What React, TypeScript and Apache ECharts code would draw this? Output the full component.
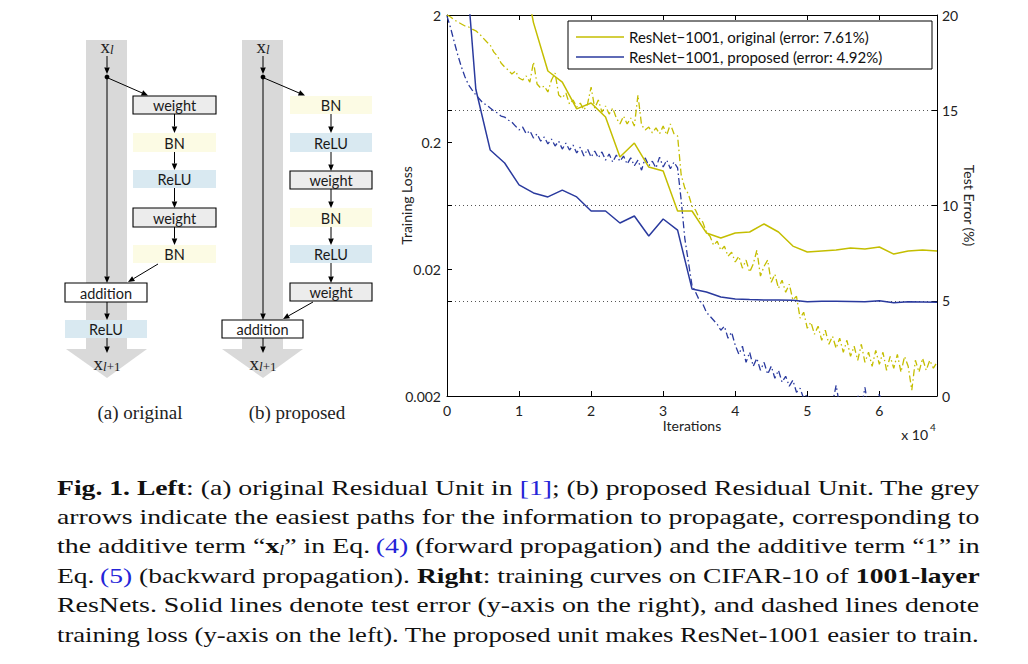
import React, { useEffect, useRef } from "react";
import * as echarts from "echarts";

// ---------- data (x in units of 10^4 iterations) ----------
const X_TICKS = [0, 1, 2, 3, 4, 5, 6];
const LOSS_TICKS = [0.002, 0.02, 0.2, 2];
const ERR_TICKS = [0, 5, 10, 15, 20];

const LEGEND_ORIG = "ResNet\u22121001, original (error: 7.61%)";
const LEGEND_PROP = "ResNet\u22121001, proposed (error: 4.92%)";

// test error (%), solid lines, right axis
const TEST_ITER_ORIG = [1.0, 1.2, 1.4, 1.6, 1.8, 2.0, 2.2, 2.4, 2.6, 2.8, 3.0, 3.2, 3.4, 3.6, 3.8, 4.0, 4.2, 4.4, 4.6, 4.8, 5.0, 5.2, 5.4, 5.6, 5.8, 6.0, 6.2, 6.4, 6.6, 6.8];
const TEST_ERR_ORIG = [23.5, 19.6, 17.06, 16.48, 15.07, 15.38, 14.65, 12.55, 13.28, 12.02, 11.81, 9.71, 9.71, 8.56, 8.29, 8.56, 8.61, 9.03, 8.61, 7.87, 7.56, 7.61, 7.66, 7.77, 7.72, 7.82, 7.45, 7.61, 7.66, 7.61];
const TEST_ITER_PROP = [0.2, 0.4, 0.6, 0.8, 1.0, 1.2, 1.4, 1.6, 1.8, 2.0, 2.2, 2.4, 2.6, 2.8, 3.0, 3.2, 3.4, 3.6, 3.8, 4.0, 4.2, 4.4, 4.6, 4.8, 5.0, 5.2, 5.4, 5.6, 5.8, 6.0, 6.2, 6.4, 6.6, 6.8];
const TEST_ERR_PROP = [25.7, 16.1, 12.91, 12.23, 11.08, 10.66, 10.45, 10.81, 10.45, 9.71, 9.71, 9.08, 9.45, 8.4, 9.29, 8.71, 5.62, 5.46, 5.2, 5.09, 5.06, 5.04, 5.04, 5.02, 4.95, 4.97, 4.97, 4.96, 4.95, 5.0, 4.9, 4.95, 4.94, 4.92];

// training loss, dashed lines, left log axis, sampled every 0.05 x 10^4 iterations from 0
const LOSS_STEP = 0.05;
const LOSS_ORIG = [
  2.0, 1.93, 1.83, 1.76, 1.7, 1.64, 1.61, 1.55, 1.5, 1.42,
  1.32, 1.23, 1.16, 1.02, 0.951, 0.837, 0.779, 0.738, 0.686, 0.725,
  0.638, 0.615, 0.662, 0.593, 0.853, 0.572, 0.532, 0.552, 0.495, 0.615,
  0.699, 0.469, 0.444, 0.486, 0.398, 0.428, 0.377, 0.405, 0.357, 0.398,
  0.542, 0.37, 0.428, 0.344, 0.384, 0.332, 0.37, 0.309, 0.277, 0.32,
  0.277, 0.309, 0.267, 0.469, 0.272, 0.249, 0.262, 0.236, 0.258, 0.232,
  0.267, 0.227, 0.277, 0.232, 0.223, 0.11, 0.0867, 0.0778, 0.0626, 0.0581,
  0.0503, 0.0468, 0.039, 0.0362, 0.0308, 0.0331, 0.0281, 0.0302, 0.0252, 0.0271,
  0.0227, 0.0252, 0.0203, 0.0235, 0.0189, 0.0219, 0.0281, 0.0176, 0.021, 0.0235,
  0.0157, 0.0182, 0.0141, 0.0163, 0.0131, 0.0152, 0.0114, 0.0122, 0.00819, 0.00913,
  0.00683, 0.00762, 0.00613, 0.00708, 0.00549, 0.00659, 0.00511, 0.00591, 0.00475, 0.0057,
  0.00442, 0.00549, 0.0041, 0.00493, 0.00382, 0.00511, 0.00368, 0.00442, 0.00343, 0.00458,
  0.00355, 0.00442, 0.00319, 0.0041, 0.00331, 0.00426, 0.00308, 0.0041, 0.00343, 0.00222,
  0.00382, 0.00308, 0.00396, 0.00319, 0.00382, 0.00331, 0.00368,
];
const LOSS_PROP = [
  1.96, 1.58, 1.23, 0.968, 0.779, 0.65, 0.562, 0.513, 0.469, 0.436,
  0.405, 0.391, 0.37, 0.351, 0.338, 0.32, 0.314, 0.298, 0.287, 0.267,
  0.249, 0.262, 0.232, 0.245, 0.215, 0.232, 0.203, 0.219, 0.193, 0.211,
  0.186, 0.203, 0.176, 0.196, 0.173, 0.189, 0.164, 0.182, 0.155, 0.176,
  0.152, 0.17, 0.15, 0.167, 0.144, 0.161, 0.139, 0.158, 0.141, 0.155,
  0.134, 0.15, 0.13, 0.144, 0.12, 0.15, 0.13, 0.141, 0.125, 0.152,
  0.127, 0.144, 0.123, 0.139, 0.125, 0.0697, 0.0349, 0.0227, 0.0149, 0.0131,
  0.0114, 0.0106, 0.00913, 0.00849, 0.0079, 0.00735, 0.00659, 0.00708, 0.0057, 0.00636,
  0.00502, 0.00426, 0.00493, 0.00368, 0.00442, 0.00343, 0.00396, 0.00319, 0.00368, 0.00297,
  0.00343, 0.00276, 0.00319, 0.00257, 0.00286, 0.00239, 0.00266, 0.00214, 0.0023, 0.00191,
  0.00206, 0.00178, 0.00191, 0.00169, 0.00185, 0.00172, 0.00154, 0.00175, 0.00243, 0.00166,
  0.00154, 0.00172, 0.00149, 0.00169, 0.00202, 0.0016, 0.00234, 0.00154, 0.00166, 0.00149,
  0.0021, 0.00154, 0.00169, 0.00143, 0.00163, 0.00149, 0.00172, 0.00154, 0.00166, 0.00143,
  0.0016, 0.00149, 0.00172, 0.00151, 0.00166, 0.00149, 0.0016,
];

// caption lines: [style, text]
const CAPTION_LINES: [string, string][][] = [
  [["b", "Fig. 1. Left"], ["n", ": (a) original Residual Unit in "], ["c", "[1]"], ["n", "; (b) proposed Residual Unit. The grey"]],
  [["n", "arrows indicate the easiest paths for the information to propagate, corresponding to"]],
  [["n", "the additive term \u201c"], ["b", "x"], ["sub", "l"], ["n", "\u201d in Eq.\u2009"], ["c", "(4)"], ["n", " (forward propagation) and the additive term \u201c1\u201d in"]],
  [["n", "Eq.\u2009"], ["c", "(5)"], ["n", " (backward propagation). "], ["b", "Right"], ["n", ": training curves on CIFAR-10 of "], ["b", "1001-layer"]],
  [["n", "ResNets. Solid lines denote test error (y-axis on the right), and dashed lines denote"]],
  [["n", "training loss (y-axis on the left). The proposed unit makes ResNet-1001 easier to train."]],
];

// ---------- styling ----------
const YEL = "#c4be00";
const BLU = "#2a3a9e";
const AX_FONT = "Lato";
const SERIF = "Liberation Serif";
const CAP_SIZE = 22;
const GRID = { left: 447, right: 91, top: 15, bottom: 268 };

const CAP_RICH: Record<string, any> = {
  n: { fontFamily: SERIF, fontSize: CAP_SIZE, fontWeight: "normal", fill: "#111" },
  b: { fontFamily: SERIF, fontSize: CAP_SIZE, fontWeight: "bold", fill: "#111" },
  c: { fontFamily: SERIF, fontSize: CAP_SIZE, fontWeight: "normal", fill: "#2424d8" },
  sub: { fontFamily: SERIF, fontSize: 14, fontStyle: "italic", fontWeight: "normal", fill: "#111", verticalAlign: "bottom" },
};

function measureTokens(tokens: [string, string][]) {
  const ctx = document.createElement("canvas").getContext("2d")!;
  let w = 0;
  for (const [s, t] of tokens) {
    const st = CAP_RICH[s];
    ctx.font = `${st.fontStyle || "normal"} ${st.fontWeight || "normal"} ${st.fontSize}px "${st.fontFamily}"`;
    w += ctx.measureText(t).width;
  }
  return w;
}

function arrow(x1: number, y1: number, x2: number, y2: number) {
  const a = Math.atan2(y2 - y1, x2 - x1);
  const L = 6.5, Wd = 2.8;
  const c = Math.cos(a), s = Math.sin(a);
  const bx = x2 - L * c, by = y2 - L * s;
  return [
    { type: "line", silent: true, shape: { x1, y1, x2: bx, y2: by }, style: { stroke: "#000", lineWidth: 1 } },
    { type: "polygon", silent: true, shape: { points: [[x2, y2], [bx + Wd * s, by - Wd * c], [bx - Wd * s, by + Wd * c]] }, style: { fill: "#000" } },
  ];
}

function box(x: number, y: number, w: number, h: number, fill: string, stroked: boolean, label: string) {
  return [
    { type: "rect", silent: true, shape: { x, y, width: w, height: h }, style: { fill, stroke: stroked ? "#000" : "none", lineWidth: stroked ? 1.1 : 0 } },
    {
      type: "text", silent: true, x: x + w / 2, y: y + h / 2 + 0.5,
      style: { text: label, fontFamily: AX_FONT, fontSize: 14.5, fill: "#1a1a1a", align: "center", verticalAlign: "middle", textAlign: "center", textVerticalAlign: "middle" },
    },
  ];
}

function xLabel(cx: number, cy: number, sub: string, plus: string) {
  return {
    type: "text", silent: true, x: cx, y: cy,
    style: {
      text: `{x|x}{i|${sub}}` + (plus ? `{r|${plus}}` : ""),
      align: "center", verticalAlign: "middle", textAlign: "center", textVerticalAlign: "middle",
      rich: {
        x: { fontFamily: SERIF, fontSize: 19, fill: "#222", verticalAlign: "bottom" },
        i: { fontFamily: SERIF, fontSize: 13, fontStyle: "italic", fill: "#222", verticalAlign: "bottom" },
        r: { fontFamily: SERIF, fontSize: 13, fill: "#222", verticalAlign: "bottom" },
      },
    },
  };
}

const YELLOW_BOX = "#fcfbe4";
const BLUE_BOX = "#d9e9f1";
const GREY_BOX = "#ececec";
const BAND = "#d9d9d9";

function diagram() {
  const els: any[] = [];
  // (a) original
  els.push({ type: "rect", silent: true, shape: { x: 86, y: 40, width: 41, height: 309 }, style: { fill: BAND } });
  els.push({ type: "polygon", silent: true, shape: { points: [[66, 349], [147, 349], [107, 378]] }, style: { fill: BAND } });
  // (b) proposed
  els.push({ type: "rect", silent: true, shape: { x: 242, y: 40, width: 41, height: 309 }, style: { fill: BAND } });
  els.push({ type: "polygon", silent: true, shape: { points: [[222, 349], [303, 349], [263, 378]] }, style: { fill: BAND } });

  // boxes (a)
  els.push(...box(133, 96, 83, 18, GREY_BOX, true, "weight"));
  els.push(...box(133, 133, 83, 19, YELLOW_BOX, false, "BN"));
  els.push(...box(133, 170, 83, 18, BLUE_BOX, false, "ReLU"));
  els.push(...box(133, 208, 83, 19, GREY_BOX, true, "weight"));
  els.push(...box(133, 245, 83, 18, YELLOW_BOX, false, "BN"));
  els.push(...box(65, 283, 82, 19, "#fff", true, "addition"));
  els.push(...box(65, 320, 82, 18, BLUE_BOX, false, "ReLU"));
  // boxes (b)
  els.push(...box(290, 96, 82, 18, YELLOW_BOX, false, "BN"));
  els.push(...box(290, 133, 82, 19, BLUE_BOX, false, "ReLU"));
  els.push(...box(290, 171, 82, 18, GREY_BOX, true, "weight"));
  els.push(...box(290, 208, 82, 19, YELLOW_BOX, false, "BN"));
  els.push(...box(290, 245, 82, 18, BLUE_BOX, false, "ReLU"));
  els.push(...box(290, 283, 82, 18, GREY_BOX, true, "weight"));
  els.push(...box(222, 320, 81, 18, "#fff", true, "addition"));

  // arrows (a)
  els.push(...arrow(107, 56, 107, 74));
  els.push({ type: "circle", silent: true, shape: { cx: 107, cy: 77, r: 2.4 }, style: { fill: "#000" } });
  els.push(...arrow(107, 78, 107, 283));
  els.push(...arrow(108, 78, 148, 95.5));
  els.push(...arrow(174.5, 114, 174.5, 133));
  els.push(...arrow(174.5, 152, 174.5, 170));
  els.push(...arrow(174.5, 188, 174.5, 208));
  els.push(...arrow(174.5, 227, 174.5, 245));
  els.push(...arrow(158, 264, 128, 282));
  els.push(...arrow(107, 302, 107, 320));
  els.push(...arrow(107, 338, 107, 353));
  // arrows (b)
  els.push(...arrow(263, 56, 263, 74));
  els.push({ type: "circle", silent: true, shape: { cx: 263, cy: 77, r: 2.4 }, style: { fill: "#000" } });
  els.push(...arrow(263, 78, 263, 320));
  els.push(...arrow(264, 78, 305, 95.5));
  els.push(...arrow(331, 114, 331, 133));
  els.push(...arrow(331, 152, 331, 171));
  els.push(...arrow(331, 189, 331, 208));
  els.push(...arrow(331, 227, 331, 245));
  els.push(...arrow(331, 263, 331, 283));
  els.push(...arrow(313, 302, 283, 319));
  els.push(...arrow(263, 338, 263, 353));

  els.push(xLabel(107, 46, "l", ""));
  els.push(xLabel(263, 46, "l", ""));
  els.push(xLabel(107, 363, "l", "+1"));
  els.push(xLabel(263, 363, "l", "+1"));

  const sub = (x: number, t: string) => ({
    type: "text", silent: true, x, y: 412,
    style: { text: t, fontFamily: SERIF, fontSize: 19, fill: "#222", align: "center", verticalAlign: "middle", textAlign: "center", textVerticalAlign: "middle" },
  });
  els.push(sub(140, "(a) original"));
  els.push(sub(297, "(b) proposed"));
  return els;
}

function caption() {
  const ys = [488, 517, 546, 576, 605, 634];
  const left = 57, width = 923;
  return CAPTION_LINES.map((tokens, i) => {
    const w = measureTokens(tokens);
    return {
      type: "text", silent: true, x: left, y: ys[i], scaleX: width / w, scaleY: 1,
      style: {
        text: tokens.map(([s, t]) => `{${s}|${t}}`).join(""),
        rich: CAP_RICH,
        fontFamily: SERIF, fontSize: CAP_SIZE, fill: "#111",
        align: "left", verticalAlign: "middle", textAlign: "left", textVerticalAlign: "middle",
      },
    };
  });
}

function buildOption(): any {
  const lossOrig = LOSS_ORIG.map((v, i) => [+(i * LOSS_STEP).toFixed(2), v]);
  const lossProp = LOSS_PROP.map((v, i) => [+(i * LOSS_STEP).toFixed(2), v]);
  const errOrig = TEST_ITER_ORIG.map((x, i) => [x, TEST_ERR_ORIG[i]]);
  const errProp = TEST_ITER_PROP.map((x, i) => [x, TEST_ERR_PROP[i]]);

  const axisLine = { show: true, onZero: false, lineStyle: { color: "#000", width: 1 } };
  const tick = { show: true, inside: true, length: 5, lineStyle: { color: "#000", width: 1 } };
  const lbl = { color: "#222", fontFamily: AX_FONT, fontSize: 14 };
  const dash = [7, 3, 1.5, 3];
  const nameStyle = { color: "#222", fontFamily: AX_FONT, fontSize: 14 };

  return {
    animation: false,
    backgroundColor: "#fff",
    textStyle: { fontFamily: AX_FONT },
    grid: { ...GRID, outerBoundsMode: "none" },
    legend: {
      data: [
        { name: LEGEND_ORIG, icon: "rect" },
        { name: LEGEND_PROP, icon: "rect" },
      ],
      orient: "vertical",
      left: 568,
      top: 21,
      backgroundColor: "#fff",
      borderColor: "#000",
      borderWidth: 1,
      borderRadius: 0,
      padding: [8, 8, 4, 8],
      itemWidth: 48,
      itemHeight: 1.6,
      itemGap: 4,
      selectedMode: false,
      z: 10,
      textStyle: { color: "#111", fontFamily: AX_FONT, fontSize: 15, lineHeight: 16, width: 295, overflow: "none" },
    },
    xAxis: [
      {
        type: "value", min: 0, max: 6.8, interval: 1, position: "bottom",
        axisLine, axisTick: tick, splitLine: { show: false },
        axisLabel: { ...lbl, margin: 7, customValues: X_TICKS, formatter: (v: number) => String(v) },
        name: "Iterations", nameLocation: "middle", nameGap: 22, nameMoveOverlap: false, nameTextStyle: nameStyle,
      },
      {
        type: "value", min: 0, max: 6.8, interval: 1, position: "top",
        axisLine, axisTick: tick, splitLine: { show: false }, axisLabel: { show: false },
      },
    ],
    yAxis: [
      {
        type: "log", logBase: 10, min: 0.002, max: 2, position: "left",
        axisLine, axisTick: { ...tick, customValues: LOSS_TICKS }, splitLine: { show: false },
        minorTick: { show: false },
        axisLabel: { ...lbl, margin: 6, customValues: LOSS_TICKS, formatter: (v: number) => String(+(+v).toPrecision(3)) },
        name: "Training Loss", nameLocation: "middle", nameGap: 34, nameMoveOverlap: false, nameTextStyle: nameStyle,
      },
      {
        type: "value", min: 0, max: 20, interval: 5, position: "right",
        axisLine, axisTick: tick,
        splitLine: { show: true, lineStyle: { color: "#555", width: 1, type: [1, 3] } },
        axisLabel: { ...lbl, margin: 5, customValues: ERR_TICKS, formatter: (v: number) => String(v) },
        name: "Test Error (%)", nameLocation: "middle", nameRotate: -90, nameGap: 25, nameMoveOverlap: false, nameTextStyle: nameStyle,
      },
      {
        type: "value", min: 0, max: 20, interval: 5, position: "left",
        axisLine: { show: false }, axisTick: tick, splitLine: { show: false }, axisLabel: { show: false },
      },
    ],
    series: [
      {
        type: "line", name: "original training loss", xAxisIndex: 0, yAxisIndex: 0, data: lossOrig,
        symbol: "none", silent: true, clip: true, z: 2,
        lineStyle: { color: YEL, width: 1.3, type: dash }, itemStyle: { color: YEL },
      },
      {
        type: "line", name: "proposed training loss", xAxisIndex: 0, yAxisIndex: 0, data: lossProp,
        symbol: "none", silent: true, clip: true, z: 2,
        lineStyle: { color: BLU, width: 1.3, type: dash }, itemStyle: { color: BLU },
      },
      {
        type: "line", name: LEGEND_ORIG, xAxisIndex: 0, yAxisIndex: 1, data: errOrig,
        symbol: "none", silent: true, clip: true, z: 3,
        lineStyle: { color: YEL, width: 1.5 }, itemStyle: { color: YEL },
      },
      {
        type: "line", name: LEGEND_PROP, xAxisIndex: 0, yAxisIndex: 1, data: errProp,
        symbol: "none", silent: true, clip: true, z: 3,
        lineStyle: { color: BLU, width: 1.5 }, itemStyle: { color: BLU },
      },
    ],
    graphic: {
      elements: [
        ...diagram(),
        ...caption(),
        { type: "text", silent: true, x: 928, y: 434, style: { text: "x 10", fontFamily: AX_FONT, fontSize: 14, fill: "#222", align: "right", verticalAlign: "middle", textAlign: "right", textVerticalAlign: "middle" } },
        { type: "text", silent: true, x: 930, y: 427, style: { text: "4", fontFamily: AX_FONT, fontSize: 10, fill: "#222", align: "left", verticalAlign: "middle", textAlign: "left", textVerticalAlign: "middle" } },
      ],
    },
  };
}

export default function App() {
  const ref = useRef<HTMLDivElement>(null);
  useEffect(() => {
    if (!ref.current) return;
    const chart = echarts.init(ref.current, null, { renderer: "svg" });
    chart.setOption(buildOption());
    return () => chart.dispose();
  }, []);
  return (
    <div
      ref={ref}
      style={{ position: "fixed", left: 0, top: 0, width: 1028, height: 664, background: "#fff" }}
    />
  );
}
